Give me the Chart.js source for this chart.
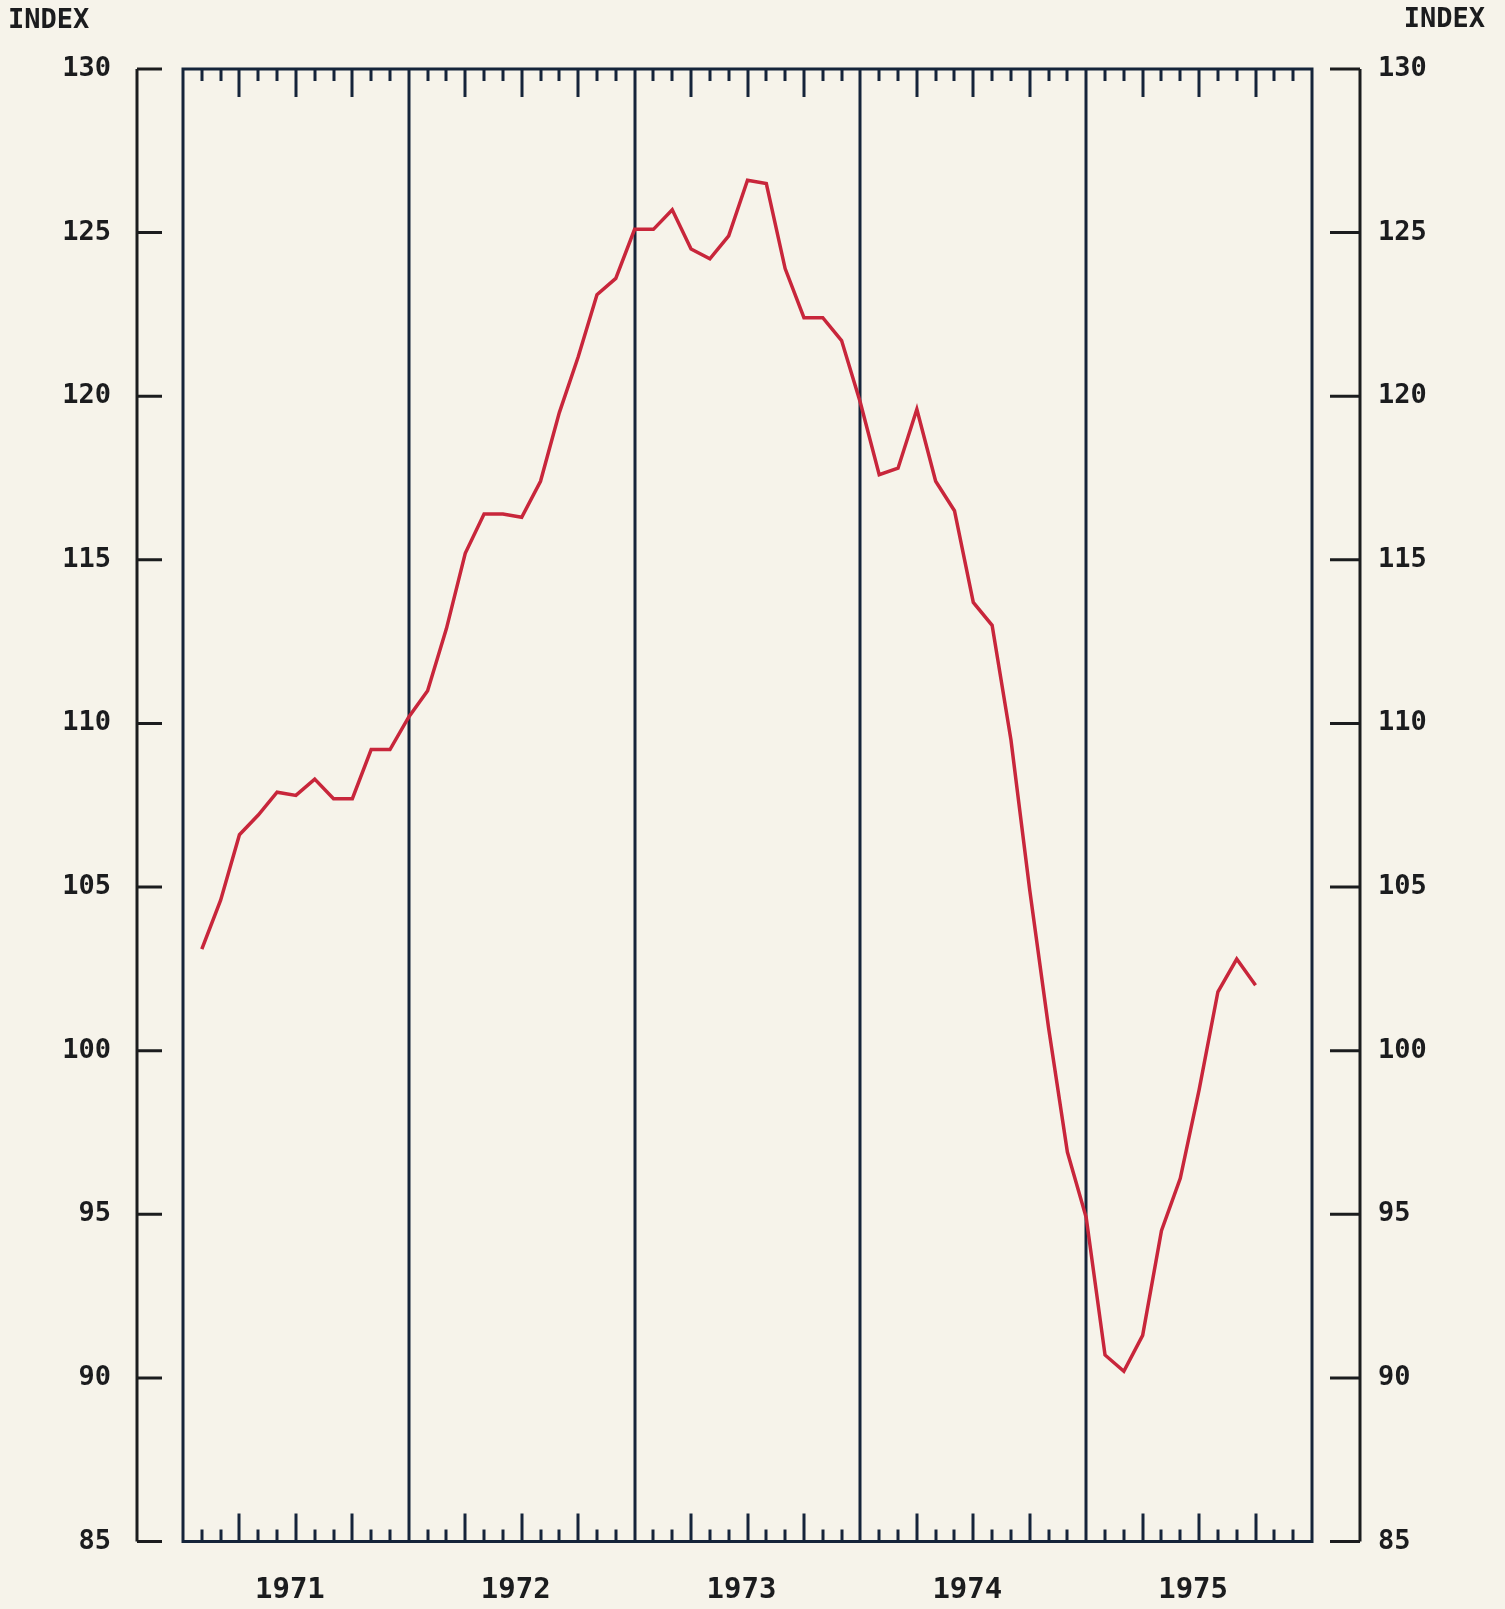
<!DOCTYPE html>
<html>
<head>
<meta charset="utf-8">
<script src="https://cdn.jsdelivr.net/npm/chart.js@4.4.0/dist/chart.umd.min.js"></script>
<style>
  html, body { margin: 0; padding: 0; background: #f6f3ea; }
  #wrap { width: 1505px; height: 1609px; position: relative; }
</style>
</head>
<body>
<div id="wrap"><canvas id="chart"></canvas></div>
<script>
'use strict';

// months counted from Jan 1971 = 0; first reading is Feb 1971
const firstMonth = 1;
const indexValues = [
  103.1, 104.6, 106.6, 107.2, 107.9, 107.8, 108.3, 107.7, 107.7, 109.2, 109.2,        // 1971
  110.2, 111.0, 112.9, 115.2, 116.4, 116.4, 116.3, 117.4, 119.5, 121.2, 123.1, 123.6, // 1972
  125.1, 125.1, 125.7, 124.5, 124.2, 124.9, 126.6, 126.5, 123.9, 122.4, 122.4, 121.7, // 1973
  119.8, 117.6, 117.8, 119.6, 117.4, 116.5, 113.7, 113.0, 109.5, 104.9, 100.7, 96.9,  // 1974
  94.9, 90.7, 90.2, 91.3, 94.5, 96.1, 98.8, 101.8, 102.8, 102.0                        // 1975
];
const yearLabels = ['1971', '1972', '1973', '1974', '1975'];
const yTicks = [85, 90, 95, 100, 105, 110, 115, 120, 125, 130];

const inkColor = '#1b1c1e';
const frameColor = '#15243a';
const lineColor = '#c8263b';
const fontFamily = "'DejaVu Sans Mono', monospace";

const points = indexValues.map((v, i) => ({ x: firstMonth + i, y: v }));

// frame, year dividers, month ticks and the two side scales
const plotterFrame = {
  id: 'plotterFrame',
  beforeDatasetsDraw(chart) {
    const { ctx, chartArea: a, scales } = chart;
    const x = scales.x, y = scales.y;
    ctx.save();
    ctx.strokeStyle = frameColor;
    ctx.lineWidth = 3;
    ctx.lineCap = 'butt';
    ctx.strokeRect(a.left, a.top, a.right - a.left, a.bottom - a.top);

    ctx.beginPath();
    for (let m = 1; m < 60; m++) {
      const px = Math.round(x.getPixelForValue(m));
      if (m % 12 === 0) {
        ctx.moveTo(px, a.top);
        ctx.lineTo(px, a.bottom);
      } else {
        const len = (m % 3 === 0) ? 28 : 12;
        ctx.moveTo(px, a.top);
        ctx.lineTo(px, a.top + len);
        ctx.moveTo(px, a.bottom);
        ctx.lineTo(px, a.bottom - len);
      }
    }
    ctx.stroke();

    // side scale brackets
    const lx = a.left - 46;
    const rx = a.right + 48;
    ctx.strokeStyle = inkColor;
    ctx.beginPath();
    ctx.moveTo(lx, y.getPixelForValue(130));
    ctx.lineTo(lx, y.getPixelForValue(85));
    ctx.moveTo(rx, y.getPixelForValue(130));
    ctx.lineTo(rx, y.getPixelForValue(85));
    yTicks.forEach(t => {
      const py = y.getPixelForValue(t);
      ctx.moveTo(lx, py);
      ctx.lineTo(lx + 25, py);
      ctx.moveTo(rx - 30, py);
      ctx.lineTo(rx, py);
    });
    ctx.stroke();

    ctx.fillStyle = inkColor;
    ctx.font = 'bold 27px ' + fontFamily;
    ctx.textBaseline = 'middle';
    ctx.textAlign = 'left';
    ctx.fillText('INDEX', 8, 21);
    ctx.textAlign = 'right';
    ctx.fillText('INDEX', 1485, 20);
    ctx.restore();
  }
};

const config = {
  type: 'line',
  data: {
    datasets: [{
      data: points,
      borderColor: lineColor,
      borderWidth: 3.5,
      pointRadius: 0,
      tension: 0,
      fill: false
    }]
  },
  options: {
    animation: false,
    responsive: true,
    maintainAspectRatio: false,
    layout: { padding: { top: 69, left: 0, right: 0, bottom: 0 } },
    plugins: { legend: { display: false }, tooltip: { enabled: false } },
    scales: {
      x: {
        type: 'linear',
        min: 0,
        max: 60,
        grid: { display: false, drawTicks: false },
        border: { display: false },
        afterBuildTicks: s => { s.ticks = yearLabels.map((l, i) => ({ value: 6 + 12 * i })); },
        afterFit: s => { s.height = 67.5; s.paddingLeft = 0; s.paddingRight = 0; },
        ticks: {
          autoSkip: false,
          maxRotation: 0,
          padding: 32,
          labelOffset: -6,
          color: inkColor,
          font: { family: fontFamily, size: 29, weight: 'bold' },
          callback: (v, i) => yearLabels[i]
        }
      },
      y: {
        position: 'left',
        min: 85,
        max: 130,
        grid: { display: false, drawTicks: false },
        border: { display: false },
        afterBuildTicks: s => { s.ticks = yTicks.map(v => ({ value: v })); },
        afterFit: s => { s.width = 183; s.paddingTop = 0; s.paddingBottom = 0; },
        ticks: {
          padding: 72,
          color: inkColor,
          font: { family: fontFamily, size: 27, weight: 'bold' }
        }
      },
      y2: {
        position: 'right',
        min: 85,
        max: 130,
        grid: { display: false, drawTicks: false },
        border: { display: false },
        afterBuildTicks: s => { s.ticks = yTicks.map(v => ({ value: v })); },
        afterFit: s => { s.width = 193; s.paddingTop = 0; s.paddingBottom = 0; },
        ticks: {
          padding: 66,
          color: inkColor,
          font: { family: fontFamily, size: 27, weight: 'bold' }
        }
      }
    }
  },
  plugins: [plotterFrame]
};

window.myChart = new Chart(document.getElementById('chart'), config);
</script>
</body>
</html>
